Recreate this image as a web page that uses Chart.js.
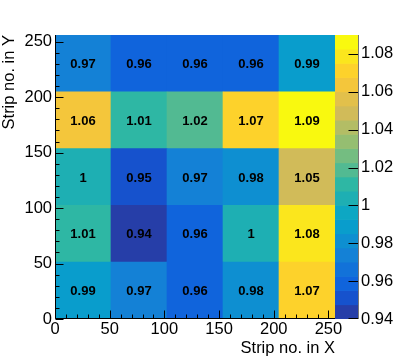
<!DOCTYPE html>
<html>
<head>
<meta charset="utf-8">
<script src="https://cdn.jsdelivr.net/npm/chart.js@4.4.1/dist/chart.umd.min.js"></script>
<style>
  html, body { margin: 0; padding: 0; background: #fff; }
  #wrap { position: relative; width: 396px; height: 360px; }
  #wrap canvas { position: absolute; left: 0; top: 0; }
</style>
</head>
<body>
<div id="wrap">
  <canvas id="map" width="396" height="360"></canvas>
  <canvas id="zbar" width="396" height="360"></canvas>
</div>
<script>
// bin edges of the 5x5 strip map
var xEdges = [0, 51.2, 102.4, 153.6, 204.8, 256];
var yEdges = [0, 51.2, 102.4, 153.6, 204.8, 256];
// cell values, one array per y bin (bottom row first)
var row1 = [0.99, 0.97, 0.96, 0.98, 1.07];
var row2 = [1.01, 0.94, 0.96, 1.00, 1.08];
var row3 = [1.00, 0.95, 0.97, 0.98, 1.05];
var row4 = [1.06, 1.01, 1.02, 1.07, 1.09];
var row5 = [0.97, 0.96, 0.96, 0.96, 0.99];
var rows = [row1, row2, row3, row4, row5];
var axisTicks = [0, 50, 100, 150, 200, 250];
var zTicks = [0.94, 0.96, 0.98, 1.00, 1.02, 1.04, 1.06, 1.08];
var zMin = 0.94, zMax = 1.09, nLevels = 20;

Chart.defaults.font.family = '"Liberation Sans", Arial, sans-serif';
Chart.defaults.color = '#000';

// ROOT "bird" palette, 255 colours
var stops = [0.0, 0.125, 0.25, 0.375, 0.5, 0.625, 0.75, 0.875, 1.0];
var red   = [0.2082, 0.0592, 0.0780, 0.0232, 0.1802, 0.5301, 0.8186, 0.9956, 0.9764];
var green = [0.1664, 0.3599, 0.5041, 0.6419, 0.7178, 0.7492, 0.7328, 0.7862, 0.9832];
var blue  = [0.5293, 0.8684, 0.8385, 0.7914, 0.6425, 0.4662, 0.3499, 0.1968, 0.0539];
var palette = [];
for (var g = 1; g < stops.length; g++) {
  var n = Math.floor(stops[g] * 255) - Math.floor(stops[g - 1] * 255);
  for (var c = 0; c < n; c++) {
    var r = red[g - 1] + c * (red[g] - red[g - 1]) / n;
    var gg = green[g - 1] + c * (green[g] - green[g - 1]) / n;
    var b = blue[g - 1] + c * (blue[g] - blue[g - 1]) / n;
    palette.push('rgb(' + Math.round(r * 255) + ',' + Math.round(gg * 255) + ',' + Math.round(b * 255) + ')');
  }
}
function levelIndex(v) {
  var lev = Math.floor(0.01 + (v - zMin) * nLevels / (zMax - zMin));
  return Math.max(0, Math.min(nLevels - 1, lev));
}
function levelColor(lev) {
  var k = Math.floor((lev + 0.99) * palette.length / nLevels);
  return palette[Math.min(palette.length - 1, k)];
}
function fmt(v) { return String(Number(v.toFixed(2))); }

var labelFont = { size: 16.5 };

// inward ticks + axis lines drawn on top of the cells
var frameTicks = {
  id: 'frameTicks',
  afterDatasetsDraw: function (chart) {
    var ctx = chart.ctx, a = chart.chartArea;
    var xs = chart.scales.x, ys = chart.scales.y;
    ctx.save();
    ctx.strokeStyle = '#000';
    ctx.lineWidth = 1;
    ctx.beginPath();
    var left = Math.round(a.left) + 0.5, bottom = Math.round(a.bottom) - 0.5;
    ctx.moveTo(left, a.top);
    ctx.lineTo(left, bottom);
    ctx.lineTo(a.right, bottom);
    for (var t = 0; t <= 256; t += 10) {
      var len = (t % 50 === 0) ? 8 : 4;
      var px = Math.round(xs.getPixelForValue(t)) + 0.5;
      ctx.moveTo(px, bottom);
      ctx.lineTo(px, bottom - len);
      var py = Math.round(ys.getPixelForValue(t)) + 0.5;
      ctx.moveTo(left, py);
      ctx.lineTo(left + len, py);
    }
    ctx.stroke();
    // cell values
    ctx.fillStyle = '#000';
    ctx.font = 'bold 13px "Liberation Sans", Arial, sans-serif';
    ctx.textAlign = 'center';
    ctx.textBaseline = 'middle';
    rows.forEach(function (vals, j) {
      vals.forEach(function (v, i) {
        var cx = xs.getPixelForValue((xEdges[i] + xEdges[i + 1]) / 2);
        var cy = ys.getPixelForValue((yEdges[j] + yEdges[j + 1]) / 2);
        ctx.fillText(fmt(v), cx, cy + 1);
      });
    });
    ctx.restore();
  }
};

var datasets = rows.map(function (vals, j) {
  return {
    data: vals.map(function (v, i) {
      return { x: (xEdges[i] + xEdges[i + 1]) / 2, y: [yEdges[j], yEdges[j + 1]] };
    }),
    backgroundColor: vals.map(function (v) { return levelColor(levelIndex(v)); }),
    borderWidth: 0,
    barThickness: 'flex',
    barPercentage: 1,
    categoryPercentage: 1
  };
});

new Chart(document.getElementById('map'), {
  type: 'bar',
  data: { datasets: datasets },
  options: {
    responsive: false,
    animation: false,
    layout: { padding: { left: 0, top: 35, right: 61, bottom: 0 } },
    plugins: { legend: { display: false }, tooltip: { enabled: false } },
    scales: {
      x: {
        type: 'linear',
        stacked: true,
        min: 0,
        max: 256,
        offset: false,
        afterBuildTicks: function (s) { s.ticks = axisTicks.map(function (v) { return { value: v }; }); },
        afterFit: function (s) { s.height = 41; },
        grid: { display: false, drawTicks: false },
        border: { display: false },
        ticks: { font: labelFont, padding: 1, maxRotation: 0, autoSkip: false },
        title: { display: true, text: 'Strip no. in X', align: 'end', font: labelFont, padding: { top: 0, bottom: 2 } }
      },
      y: {
        type: 'linear',
        min: 0,
        max: 256,
        afterBuildTicks: function (s) { s.ticks = axisTicks.map(function (v) { return { value: v }; }); },
        afterFit: function (s) { s.width = 55; },
        grid: { display: false, drawTicks: false },
        border: { display: false },
        ticks: { font: labelFont, padding: 3, autoSkip: false },
        title: { display: true, text: 'Strip no. in Y', align: 'end', font: labelFont, padding: { top: 0, bottom: 0 } }
      }
    }
  },
  plugins: [frameTicks]
});

// colour scale
var levelBars = [];
var levelColors = [];
for (var L = 0; L < nLevels; L++) {
  var lo = zMin + L * (zMax - zMin) / nLevels;
  var hi = zMin + (L + 1) * (zMax - zMin) / nLevels;
  levelBars.push({ x: 'z', y: [lo, hi] });
  levelColors.push(levelColor(L));
}

var zTicksPlugin = {
  id: 'zTicksPlugin',
  afterDatasetsDraw: function (chart) {
    var ctx = chart.ctx, a = chart.chartArea, ys = chart.scales.y;
    var right = Math.round(a.right) - 0.5;
    ctx.save();
    ctx.strokeStyle = '#000';
    ctx.lineWidth = 1;
    ctx.beginPath();
    zTicks.forEach(function (v) {
      var py = Math.round(ys.getPixelForValue(v)) + 0.5;
      if (v === zMin) py -= 1;
      ctx.moveTo(right - 10, py);
      ctx.lineTo(right, py);
    });
    ctx.stroke();
    ctx.strokeStyle = '#777';
    ctx.beginPath();
    ctx.moveTo(right, a.top);
    ctx.lineTo(right, a.bottom);
    ctx.stroke();
    ctx.restore();
  }
};

new Chart(document.getElementById('zbar'), {
  type: 'bar',
  data: {
    labels: ['z'],
    datasets: [{
      data: levelBars,
      backgroundColor: levelColors,
      borderWidth: 0,
      barPercentage: 1,
      categoryPercentage: 1
    }]
  },
  options: {
    responsive: false,
    animation: false,
    layout: { padding: { left: 335, top: 35, right: 0, bottom: 41 } },
    plugins: { legend: { display: false }, tooltip: { enabled: false } },
    scales: {
      x: { display: false },
      y: {
        position: 'right',
        min: zMin,
        max: zMax,
        afterBuildTicks: function (s) { s.ticks = zTicks.map(function (v) { return { value: v }; }); },
        afterFit: function (s) { s.width = 37; },
        grid: { display: false, drawTicks: false },
        border: { display: false },
        ticks: { font: labelFont, padding: 2, autoSkip: false, callback: function (v) { return fmt(v); } }
      }
    }
  },
  plugins: [zTicksPlugin]
});
</script>
</body>
</html>
